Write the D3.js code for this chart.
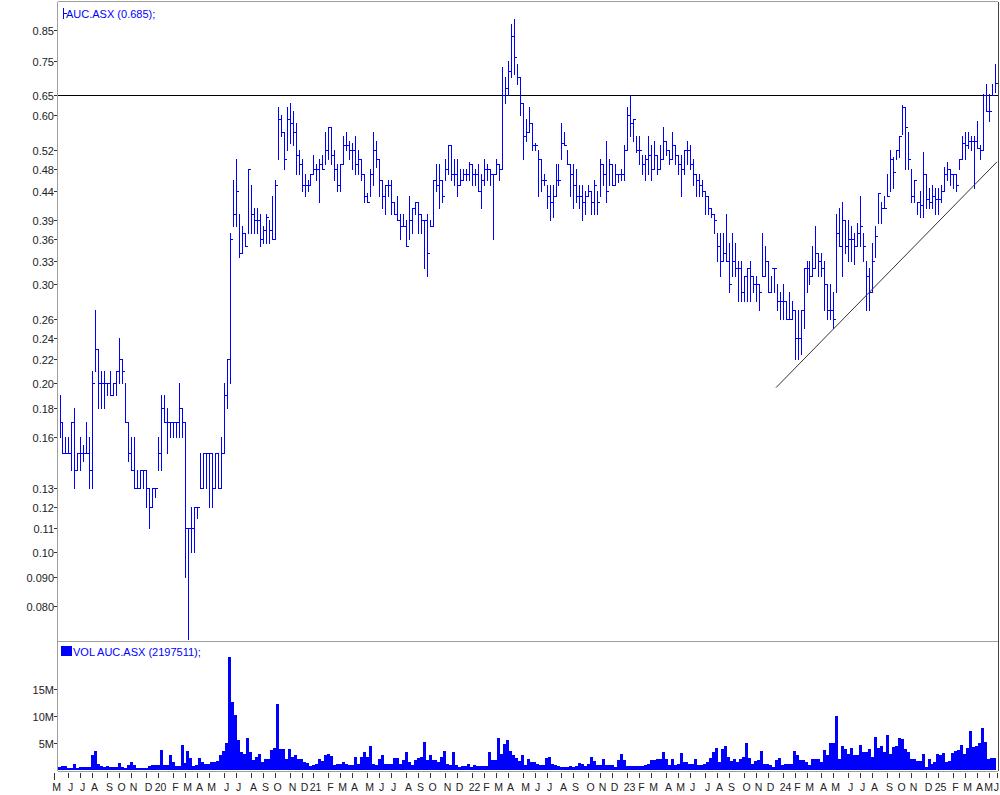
<!DOCTYPE html>
<html><head><meta charset="utf-8">
<script src="https://cdn.jsdelivr.net/npm/d3@7"></script>
<style>
body{margin:0;background:#fff}
svg{display:block}
text{font-family:"Liberation Sans",Arial,sans-serif}
</style>
</head><body>
<svg id="c" width="1000" height="795"></svg>
<script>
// ---------------- DATA ----------------
const ticker = "AUC.ASX";
const firstBarDate = "2019-05-17"; // weekly bars
const high = [
.19,.17,.16,.16,.17,.18,.15,.16,.155,.17,
.16,.21,.27,.23,.21,.21,.20,.21,.20,.21,
.24,.22,.20,.17,.16,.16,.14,.14,.14,.14,
.13,.13,.13,.16,.19,.19,.18,.17,.17,.17,
.20,.18,.17,.11,.12,.12,.12,.15,.15,.15,
.15,.15,.15,.15,.16,.20,.22,.37,.46,.50,
.40,.38,.37,.48,.45,.41,.41,.40,.38,.40,
.39,.43,.46,.62,.60,.56,.62,.63,.61,.58,
.52,.50,.47,.46,.47,.51,.49,.50,.51,.56,
.57,.57,.52,.49,.49,.55,.56,.54,.535,.55,
.52,.50,.47,.435,.48,.56,.54,.50,.46,.45,
.46,.46,.42,.43,.40,.40,.39,.43,.41,.42,
.42,.40,.39,.40,.39,.46,.49,.49,.46,.50,
.53,.53,.50,.50,.48,.48,.48,.495,.49,.48,
.49,.47,.50,.49,.48,.47,.50,.49,.73,.70,
.75,.87,.89,.74,.70,.63,.59,.62,.58,.535,
.52,.50,.47,.45,.45,.45,.49,.49,.58,.56,
.52,.49,.49,.48,.45,.45,.44,.45,.44,.46,
.44,.50,.49,.54,.50,.49,.49,.47,.48,.53,
.62,.65,.59,.55,.55,.51,.51,.55,.53,.54,
.51,.53,.57,.54,.52,.56,.53,.51,.51,.52,
.54,.53,.50,.47,.47,.46,.44,.43,.41,.40,
.37,.37,.37,.40,.355,.37,.355,.33,.33,.31,
.32,.33,.31,.31,.30,.37,.35,.33,.31,.32,
.30,.29,.30,.28,.29,.28,.27,.27,.27,.32,
.33,.33,.35,.38,.34,.34,.33,.30,.30,.29,
.40,.41,.42,.39,.39,.38,.37,.385,.43,.37,
.33,.32,.355,.38,.435,.42,.43,.47,.52,.505,
.52,.55,.625,.62,.56,.48,.46,.42,.44,.515,
.47,.445,.45,.445,.445,.45,.485,.495,.48,.47,
.47,.50,.55,.56,.56,.55,.55,.585,.53,.655,
.68,.655,.68,.74];
const low = [
.16,.15,.15,.15,.14,.13,.14,.14,.145,.15,
.13,.13,.21,.18,.18,.18,.19,.19,.19,.19,
.20,.20,.17,.145,.14,.13,.13,.13,.13,.12,
.11,.12,.125,.14,.14,.17,.15,.16,.16,.16,
.16,.16,.09,.07,.10,.10,.115,.13,.13,.13,
.12,.12,.13,.13,.13,.15,.18,.20,.38,.38,
.335,.34,.35,.37,.37,.37,.37,.35,.355,.355,
.355,.36,.36,.50,.55,.48,.52,.535,.53,.47,
.47,.44,.43,.44,.45,.47,.46,.42,.48,.49,
.50,.49,.46,.44,.44,.49,.52,.50,.48,.47,
.47,.46,.42,.42,.43,.45,.485,.43,.41,.40,
.43,.40,.40,.39,.36,.38,.35,.36,.37,.40,
.37,.37,.32,.31,.38,.38,.44,.41,.42,.46,
.47,.46,.45,.43,.45,.46,.46,.46,.45,.45,
.44,.41,.45,.46,.45,.36,.47,.46,.48,.63,
.65,.70,.71,.68,.60,.50,.54,.56,.52,.52,
.43,.44,.45,.41,.39,.395,.43,.45,.50,.53,
.49,.43,.41,.42,.41,.39,.40,.43,.40,.40,
.40,.43,.45,.42,.45,.45,.45,.455,.46,.46,
.52,.55,.54,.515,.49,.47,.46,.47,.46,.48,
.47,.48,.50,.51,.49,.50,.49,.47,.43,.47,
.49,.48,.45,.43,.43,.43,.40,.40,.395,.37,
.33,.31,.33,.33,.29,.31,.31,.28,.28,.28,
.28,.28,.29,.28,.27,.31,.31,.29,.29,.29,
.27,.26,.26,.26,.26,.26,.22,.22,.225,.25,
.29,.30,.31,.32,.31,.31,.27,.26,.26,.25,
.29,.35,.31,.34,.33,.33,.325,.35,.35,.33,
.27,.27,.29,.335,.385,.385,.41,.43,.44,.445,
.50,.505,.556,.48,.48,.42,.42,.40,.395,.395,
.41,.41,.41,.40,.40,.42,.44,.46,.45,.445,
.44,.48,.50,.50,.525,.52,.445,.525,.50,.52,
.61,.585,.65,.66];
const close = [
.17,.15,.15,.15,.17,.14,.15,.15,.15,.15,
.14,.20,.23,.20,.20,.20,.20,.19,.20,.21,
.22,.21,.17,.15,.14,.13,.13,.14,.14,.13,
.12,.13,.13,.15,.18,.17,.17,.17,.17,.17,
.18,.17,.11,.11,.11,.12,.12,.13,.15,.15,
.15,.13,.15,.13,.15,.19,.22,.36,.40,.44,
.34,.37,.35,.48,.40,.39,.39,.36,.375,.395,
.375,.36,.45,.59,.56,.50,.59,.58,.56,.51,
.49,.45,.45,.45,.47,.48,.48,.49,.48,.52,
.57,.51,.48,.45,.49,.53,.53,.52,.52,.49,
.50,.47,.43,.42,.47,.52,.50,.46,.43,.45,
.45,.42,.40,.39,.38,.38,.35,.39,.41,.42,
.40,.39,.39,.34,.38,.46,.45,.46,.43,.48,
.53,.47,.47,.45,.46,.47,.47,.49,.47,.47,
.44,.46,.48,.48,.47,.47,.49,.48,.65,.67,
.72,.83,.76,.70,.63,.55,.56,.58,.53,.53,
.50,.46,.46,.43,.42,.43,.46,.46,.535,.53,
.49,.47,.45,.43,.43,.42,.43,.44,.42,.45,
.42,.49,.47,.44,.49,.45,.47,.47,.47,.52,
.60,.58,.59,.52,.52,.49,.50,.51,.48,.51,
.48,.50,.54,.52,.50,.53,.51,.49,.48,.52,
.52,.49,.47,.46,.45,.44,.43,.41,.40,.39,
.35,.33,.34,.33,.30,.33,.32,.32,.29,.31,
.32,.31,.30,.30,.29,.31,.33,.29,.32,.32,
.28,.28,.28,.26,.26,.27,.24,.24,.27,.32,
.32,.31,.32,.34,.33,.32,.30,.27,.27,.26,
.37,.35,.39,.35,.36,.36,.35,.37,.38,.35,
.31,.29,.33,.365,.435,.41,.41,.43,.50,.475,
.52,.55,.62,.57,.50,.43,.46,.42,.415,.47,
.425,.42,.43,.425,.425,.44,.47,.48,.47,.47,
.45,.50,.535,.53,.54,.54,.54,.525,.52,.65,
.61,.61,.65,.685];
// weekly volume, millions of shares
const volumeM = [
0.5,0.7,0.7,0.4,0.4,1.2,0.4,0.5,0.6,0.6,
0.6,2.7,3.6,1.1,0.7,0.5,0.7,0.5,0.5,0.5,
1.3,0.6,0.3,0.9,1.5,0.9,0.3,0.3,0.3,0.4,
0.8,1.0,0.9,0.9,3.7,1.0,0.9,2.8,1.5,0.7,
0.7,4.6,1.3,3.6,2.3,0.8,1.0,2.2,1.5,1.1,
1.2,1.4,1.5,1.6,2.7,3.6,5.0,21.0,12.6,10.2,
5.6,3.4,2.9,6.0,3.3,1.8,2.4,3.0,1.4,2.0,
2.1,3.8,4.1,12.2,3.9,3.9,2.0,3.9,2.4,2.7,
2.0,2.1,1.5,1.3,0.7,1.0,1.2,2.0,1.7,2.8,
3.0,2.6,1.0,1.2,1.2,1.5,1.2,0.9,1.0,2.4,
1.2,2.4,3.3,2.4,4.4,1.2,0.9,2.1,2.7,1.2,
1.2,1.2,2.2,2.2,1.2,1.9,3.3,1.5,1.0,1.9,
2.2,2.4,5.2,1.8,2.7,1.8,1.8,1.5,2.4,3.6,
1.2,1.0,3.3,1.0,0.6,0.7,0.7,1.2,0.5,0.9,
0.7,0.7,0.7,0.7,3.3,1.8,1.8,6.0,3.0,4.9,
5.5,3.6,2.7,2.2,1.7,2.7,1.0,2.1,1.5,1.5,
1.2,1.0,0.9,2.2,2.4,1.2,1.0,0.7,0.5,0.5,
0.5,0.7,0.6,0.7,1.3,1.2,0.7,1.2,2.4,1.7,
0.9,0.9,2.1,0.9,0.9,1.0,0.5,1.8,2.9,1.9,
0.7,0.7,0.7,0.7,0.8,0.8,0.9,1.2,1.8,1.8,
2.1,2.1,3.3,2.1,1.0,2.1,1.0,1.2,3.1,1.5,
1.4,1.2,1.2,2.0,0.9,1.0,1.2,1.5,2.2,3.3,
4.0,1.5,3.9,4.4,2.4,1.6,2.1,1.4,2.1,2.4,
5.0,2.2,1.2,1.7,1.9,3.6,1.2,1.2,0.9,0.5,
1.9,2.2,1.0,1.2,1.2,1.2,3.5,2.7,1.9,1.9,
1.5,1.0,2.1,2.1,2.0,1.5,3.8,2.7,5.0,5.0,
10.0,2.1,4.4,3.9,3.0,4.1,2.7,2.7,4.6,3.3,
3.3,3.9,2.4,6.2,4.1,4.4,3.3,6.6,3.0,4.2,
4.4,5.9,5.8,3.9,3.4,2.1,2.1,1.7,1.7,2.9,
0.5,2.1,1.2,1.5,3.0,2.8,3.1,1.5,1.7,3.1,
3.6,3.8,4.6,3.0,4.1,7.2,4.2,4.4,5.0,7.9,
5.2,2.1,2.2,2.197511];
const priceTicks = [0.85,0.75,0.65,0.60,0.52,0.48,0.44,0.39,0.36,0.33,0.30,0.26,0.24,0.22,0.20,0.18,0.16,0.13,0.12,0.11,0.10,0.090,0.080];
const priceTickLabels = ["0.85","0.75","0.65","0.60","0.52","0.48","0.44","0.39","0.36","0.33","0.30","0.26","0.24","0.22","0.20","0.18","0.16","0.13","0.12","0.11","0.10","0.090","0.080"];
const volTicks = [5,10,15];
const volTickLabels = ["5M","10M","15M"];
const monthLetters = ["J","F","M","A","M","J","J","A","S","O","N","D"];
const refLevel = 0.65;
const trendIdx = [239.8, 313.75];
const trendPrice = [0.196, 0.495];
const lastClose = "0.685";
const lastVolume = "2197511";

// ---------------- LAYOUT ----------------
const L = 58, R = 998;
const pTop = 2, pBot = 641;
const vTop = 642, vBot = 770;
const N = close.length;
const blue = "#0000ff";

const svg = d3.select("#c");
const x = d3.scaleLinear().domain([0, N - 1]).range([59.5, 59.5 + 2.988 * (N - 1)]);
const y = d3.scaleLog().domain([0.0693, 0.9538]).range([pBot, pTop]);
const yv = d3.scaleLinear().domain([0, 23.8]).range([vBot, vTop]);

const px = v => Math.round(v) + 0.5;

// frames
const frame = svg.append("g").attr("shape-rendering", "crispEdges");
frame.append("line").attr("x1", L - 0.5).attr("x2", L - 0.5).attr("y1", pTop).attr("y2", vBot + 1).attr("stroke", "#a0a0a0");
frame.append("line").attr("x1", L).attr("x2", R).attr("y1", pTop - 0.5).attr("y2", pTop - 0.5).attr("stroke", "#a0a0a0");
frame.append("line").attr("x1", L).attr("x2", R).attr("y1", vTop - 0.5).attr("y2", vTop - 0.5).attr("stroke", "#a0a0a0");
frame.append("line").attr("x1", R + 0.5).attr("x2", R + 0.5).attr("y1", pTop).attr("y2", vBot + 1).attr("stroke", "#444");
frame.append("line").attr("x1", L).attr("x2", R).attr("y1", vBot + 1.5).attr("y2", vBot + 1.5).attr("stroke", "#a0a0a0");

// price axis
const yAxis = svg.append("g").attr("font-size", 11).attr("fill", "#222");
priceTicks.forEach((t, i) => {
  const yy = px(y(t));
  yAxis.append("line").attr("x1", 54).attr("x2", L - 1).attr("y1", yy).attr("y2", yy).attr("stroke", "#333").attr("shape-rendering", "crispEdges");
  yAxis.append("text").attr("x", 54).attr("y", yy + 4).attr("text-anchor", "end").text(priceTickLabels[i]);
});
// volume axis
volTicks.forEach((t, i) => {
  const yy = px(yv(t));
  yAxis.append("line").attr("x1", 54).attr("x2", L - 1).attr("y1", yy).attr("y2", yy).attr("stroke", "#333").attr("shape-rendering", "crispEdges");
  yAxis.append("text").attr("x", 54).attr("y", yy + 4).attr("text-anchor", "end").text(volTickLabels[i]);
});

// reference line
svg.append("line").attr("x1", L).attr("x2", R).attr("y1", px(y(refLevel))).attr("y2", px(y(refLevel)))
  .attr("stroke", "#000").attr("shape-rendering", "crispEdges");

// price bars (HLC)
const bars = svg.append("g").attr("stroke", blue).attr("stroke-width", 1).attr("shape-rendering", "crispEdges");
bars.selectAll("path").data(d3.range(N)).join("path")
  .attr("d", i => {
    const xx = px(x(i));
    const yh = Math.round(y(high[i])), yl = Math.round(y(low[i])) + 1;
    const yc = px(y(close[i]));
    return `M${xx},${yh}V${yl}M${xx},${yc}H${xx + 2.5}`;
  });

// trend line
svg.append("line")
  .attr("x1", x(trendIdx[0])).attr("y1", y(trendPrice[0]))
  .attr("x2", x(trendIdx[1])).attr("y2", y(trendPrice[1]))
  .attr("stroke", "#333").attr("stroke-width", 1);

// volume bars
svg.append("g").attr("fill", blue).attr("shape-rendering", "crispEdges")
  .selectAll("rect").data(d3.range(N)).join("rect")
  .attr("x", i => x(i) - 1.5).attr("width", 3)
  .attr("y", i => yv(volumeM[i])).attr("height", i => vBot - yv(volumeM[i]));

// legends
const lg = svg.append("g").attr("font-size", 11).attr("fill", blue);
lg.append("path").attr("d", "M63.5,8V19M63.5,13.5H67").attr("stroke", blue).attr("fill", "none").attr("shape-rendering", "crispEdges");
lg.append("text").attr("x", 66).attr("y", 18).text(`${ticker} (${lastClose});`);
lg.append("rect").attr("x", 61).attr("y", 646).attr("width", 11).attr("height", 10);
lg.append("text").attr("x", 73).attr("y", 656).text(`VOL ${ticker} (${lastVolume});`);

// x axis: month ticks at first weekly bar of each month
const t0 = Date.UTC(2019, 4, 17);
const WEEK = 7 * 86400000;
const months = d3.utcMonth.range(new Date(Date.UTC(2019, 4, 1)), new Date(Date.UTC(2025, 6, 1)));
const xa = svg.append("g").attr("font-size", 10.5).attr("fill", "#222");
const labs = [];
months.forEach((m, j) => {
  const k = Math.ceil((m.getTime() - t0) / WEEK);
  let xx = x(k);
  const clamped = xx > R - 1;
  if (clamped) xx = R - 1;
  xx = px(xx);
  const mo = m.getUTCMonth();
  const lab = mo === 0 ? String(m.getUTCFullYear() % 100).padStart(2, "0") : monthLetters[mo];
  xa.append("line").attr("x1", xx).attr("x2", xx).attr("y1", 773).attr("y2", j === 0 ? 780 : 778)
    .attr("stroke", "#333").attr("shape-rendering", "crispEdges");
  const t = xa.append("text").attr("y", 791).attr("text-anchor", "middle").text(lab);
  const w = t.node().getComputedTextLength();
  labs.push({ t, w, c: clamped ? 999 - w / 2 : xx + 2 });
});
// keep labels from overlapping at the crowded right end
for (let i = labs.length - 1; i >= 0; i--) {
  if (labs[i].c + labs[i].w / 2 > 999) labs[i].c = 999 - labs[i].w / 2;
  if (i < labs.length - 1) {
    const lim = labs[i + 1].c - labs[i + 1].w / 2 - 0.8;
    if (labs[i].c + labs[i].w / 2 > lim) labs[i].c = lim - labs[i].w / 2;
  }
}
labs.forEach(o => o.t.attr("x", o.c));
</script>
</body></html>
